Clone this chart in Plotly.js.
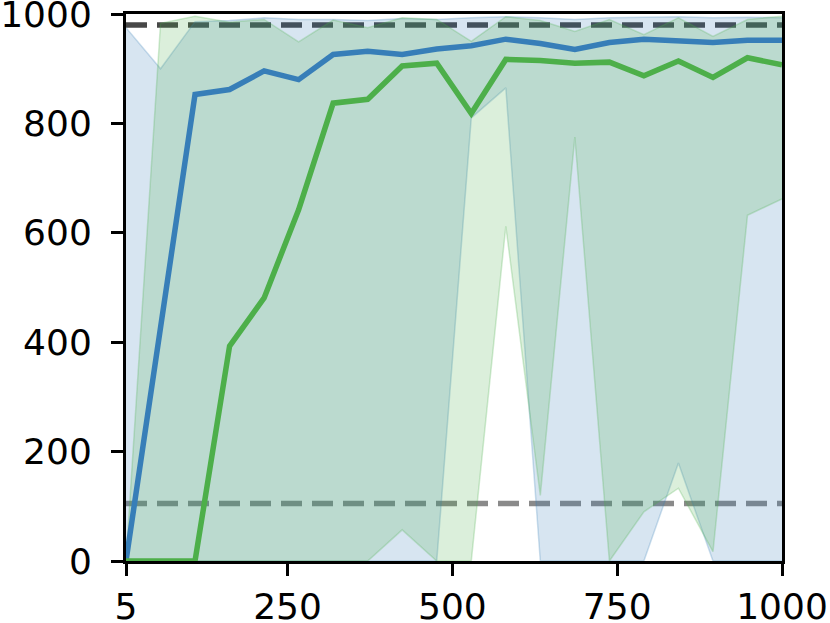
<!DOCTYPE html>
<html>
<head>
<meta charset="utf-8">
<script src="https://cdn.plot.ly/plotly-3.0.1.min.js"></script>
<style>
  html, body { margin: 0; padding: 0; background: #fff; }
  #chart { width: 830px; height: 623px; }
</style>
</head>
<body>
<div id="chart"></div>
<script>
// steps (x) and the two runs: mean line plus min/max band
var steps = [5, 57.4, 109.7, 162.1, 214.5, 266.8, 319.2, 371.6, 423.9, 476.3,
             528.7, 581.1, 633.4, 685.8, 738.2, 790.5, 842.9, 895.3, 947.6, 1000];

var blueMean  = [0, 425, 853, 862, 896, 880, 926, 932, 926, 936,
                 942, 954, 946, 935, 948, 954, 952, 948, 952, 952];
var blueUpper = [975, 900, 986, 988, 993, 990, 990, 988, 992, 990,
                 993, 995, 993, 990, 993, 994, 995, 993, 994, 993];
var blueLower = [0, 0, 0, 0, 0, 0, 0, 0, 0, 0,
                 810, 865, 0, 0, 0, 0, 179, 0, 0, 0];

var greenMean  = [0, 0, 0, 393, 481, 642, 837, 844, 905, 910,
                  818, 917, 915, 910, 912, 887, 914, 884, 920, 907];
var greenUpper = [0, 983, 996, 985, 990, 949, 989, 975, 993, 990,
                  950, 995, 988, 968, 990, 962, 993, 959, 990, 996];
var greenLower = [0, 0, 0, 0, 0, 0, 0, 0, 57, 0,
                  0, 612, 120, 775, 0, 90, 133, 17, 632, 662];

var refHigh = 980;
var refLow = 105;

var xTicks = [5, 250, 500, 750, 1000];
var yTicks = [0, 200, 400, 600, 800, 1000];

var BLUE = '#377eb8';
var GREEN = '#4daf4a';

function band(lower, upper, rgb) {
    return [{
        x: steps, y: lower, type: 'scatter', mode: 'lines',
        line: {color: 'rgba(' + rgb + ',0.25)', width: 1.5},
        hoverinfo: 'skip', showlegend: false
    }, {
        x: steps, y: upper, type: 'scatter', mode: 'lines',
        fill: 'tonexty', fillcolor: 'rgba(' + rgb + ',0.2)',
        line: {color: 'rgba(' + rgb + ',0.25)', width: 1.5},
        hoverinfo: 'skip', showlegend: false
    }];
}

var data = []
    .concat(band(blueLower, blueUpper, '55,126,184'))
    .concat(band(greenLower, greenUpper, '77,175,74'))
    .concat([{
        x: steps, y: blueMean, type: 'scatter', mode: 'lines',
        line: {color: BLUE, width: 5.5}, showlegend: false
    }, {
        x: steps, y: greenMean, type: 'scatter', mode: 'lines',
        line: {color: GREEN, width: 5.5}, showlegend: false
    }]);

var layout = {
    width: 830,
    height: 623,
    margin: {l: 126, r: 48, t: 14, b: 62},
    paper_bgcolor: '#fff',
    plot_bgcolor: '#fff',
    showlegend: false,
    font: {family: 'DejaVu Sans', size: 36, color: '#000'},
    xaxis: {
        range: [5, 1000],
        tickvals: xTicks,
        ticktext: xTicks.map(String),
        ticks: 'outside', ticklen: 12, tickwidth: 3, tickcolor: '#000',
        showline: true, linewidth: 3, linecolor: '#000', mirror: true,
        showgrid: false, zeroline: false,
        ticklabeloverflow: 'allow',
        ticklabelstandoff: 0
    },
    yaxis: {
        range: [0, 1000],
        tickvals: yTicks,
        ticktext: yTicks.map(String),
        ticks: 'outside', ticklen: 12, tickwidth: 3, tickcolor: '#000',
        showline: true, linewidth: 3, linecolor: '#000', mirror: true,
        showgrid: false, zeroline: false,
        ticklabeloverflow: 'allow',
        ticklabelstandoff: 12
    },
    shapes: [{
        type: 'line', xref: 'paper', yref: 'y', x0: 0, x1: 1, y0: refHigh, y1: refHigh,
        layer: 'below', line: {color: 'rgba(0,0,0,0.72)', width: 5.5, dash: '21px,10px'}
    }, {
        type: 'line', xref: 'paper', yref: 'y', x0: 0, x1: 1, y0: refLow, y1: refLow,
        layer: 'below', line: {color: 'rgba(0,0,0,0.46)', width: 5.5, dash: '21px,10px'}
    }]
};

Plotly.newPlot('chart', data, layout, {staticPlot: true});
</script>
</body>
</html>
